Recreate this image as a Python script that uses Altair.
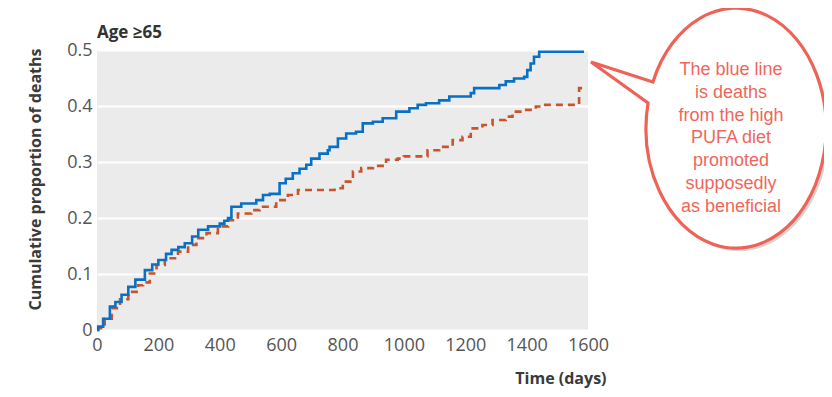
import altair as alt
import pandas as pd

# ---- data ----
BLUE_DAYS = [0, 4, 20, 42, 60, 80, 102, 125, 156, 180, 200, 225, 243, 265, 286, 310, 330, 362,
             400, 415, 427, 438, 470, 519, 541, 563, 595, 615, 638, 660, 682, 698, 725, 752, 758,
             785, 812, 844, 866, 899, 931, 975, 1018, 1045, 1072, 1115, 1148, 1218, 1229, 1311,
             1332, 1359, 1392, 1402, 1413, 1424, 1441, 1587]
BLUE_VALS = [0, 0.006, 0.02, 0.042, 0.05, 0.063, 0.077, 0.09, 0.107, 0.117, 0.125, 0.136, 0.143,
             0.148, 0.155, 0.167, 0.179, 0.185, 0.19, 0.195, 0.2, 0.22, 0.226, 0.232, 0.241, 0.243,
             0.262, 0.27, 0.28, 0.288, 0.295, 0.306, 0.315, 0.321, 0.327, 0.342, 0.351, 0.354,
             0.369, 0.372, 0.378, 0.39, 0.396, 0.402, 0.405, 0.41, 0.417, 0.423, 0.432, 0.4375,
             0.444, 0.449, 0.452, 0.464, 0.476, 0.488, 0.497, 0.497]

RED_DAYS = [0, 4, 25, 48, 75, 102, 134, 150, 172, 194, 221, 264, 297, 324, 357, 394, 427, 459,
            503, 530, 584, 622, 655, 774, 801, 834, 861, 899, 942, 980, 1000, 1077, 1115, 1159,
            1191, 1218, 1256, 1289, 1332, 1354, 1387, 1430, 1452, 1571, 1597]
RED_VALS = [0, 0.003, 0.02, 0.039, 0.055, 0.068, 0.08, 0.085, 0.101, 0.116, 0.128, 0.14, 0.152,
            0.164, 0.173, 0.185, 0.196, 0.208, 0.214, 0.22, 0.232, 0.241, 0.25, 0.253, 0.265,
            0.283, 0.289, 0.293, 0.304, 0.306, 0.31, 0.321, 0.327, 0.339, 0.345, 0.36, 0.366,
            0.375, 0.381, 0.39, 0.393, 0.399, 0.402, 0.432, 0.432]

X_TICKS = [0, 200, 400, 600, 800, 1000, 1200, 1400, 1600]
Y_TICKS = [0, 0.1, 0.2, 0.3, 0.4, 0.5]

TITLE = "Age \u226565"
X_TITLE = "Time (days)"
Y_TITLE = "Cumulative proportion of deaths"
CALLOUT_LINES = ["The blue line", "is deaths", "from the high", "PUFA diet",
                 "promoted", "supposedly", "as beneficial"]

blue_df = pd.DataFrame({"day": BLUE_DAYS, "p": BLUE_VALS})
red_df = pd.DataFrame({"day": RED_DAYS, "p": RED_VALS})

x_enc = alt.X("day:Q", scale=alt.Scale(domain=[0, 1600], nice=False),
              axis=alt.Axis(values=X_TICKS, format="d", labelOverlap=False, labelFlush=False,
                            labelBound=False, title=X_TITLE,
                            grid=False, domain=False,
                            ticks=False, labelFont="Open Sans", labelFontSize=18,
                            labelColor="#555555", labelPadding=6,
                            titleFont="Open Sans", titleFontSize=16, titleFontWeight="bold",
                            titleColor="#3a3a3a", titleAnchor="end", titleAlign="right",
                            titleX=509, titleY=53, titleBaseline="alphabetic"))
y_enc = alt.Y("p:Q", scale=alt.Scale(domain=[0, 0.5], nice=False),
              axis=alt.Axis(values=Y_TICKS, title=Y_TITLE, grid=True, gridColor="white",
                            gridWidth=1.8, gridOpacity=1, domain=False, ticks=False,
                            labelOverlap=False, labelFlush=False,
                            labelExpr="datum.value == 0 ? '0' : format(datum.value, '.1f')",
                            labelFont="Open Sans", labelFontSize=18, labelColor="#555555",
                            labelPadding=5,
                            titleFont="Open Sans", titleFontSize=16, titleFontWeight="bold",
                            titleColor="#3a3a3a", titleX=-62, titleY=129, titleAngle=-90,
                            titleAlign="center", titleBaseline="middle"))

red = alt.Chart(red_df).mark_line(interpolate="step-after", color="#c9532d", strokeWidth=2.6,
                                  strokeDash=[7, 5]).encode(x=x_enc, y=y_enc)
blue = alt.Chart(blue_df).mark_line(interpolate="step-after", color="#0a70c4",
                                    strokeWidth=2.6).encode(x=x_enc, y=y_enc)

anchor_df = pd.DataFrame({"k": [0]})

# panel title as text
title_mark = alt.Chart(anchor_df).mark_text(
    text=TITLE, font="Open Sans", fontSize=17, fontWeight="bold", color="#333333",
    align="left", baseline="alphabetic").encode(x=alt.value(0), y=alt.value(-12))

# speech bubble (ellipse with tail), unit = half-height of ellipse
BUBBLE_PATH = ("M -0.667 -0.458 L -1.183 -0.625 L -0.708 -0.283 "
               "A 0.75 1 0 1 0 -0.667 -0.458 Z")
shadow = alt.Chart(anchor_df).mark_point(
    shape=BUBBLE_PATH, size=57600, filled=True, fill="#888888", opacity=0.35,
    strokeWidth=0).encode(x=alt.value(639), y=alt.value(90))
bubble = alt.Chart(anchor_df).mark_point(
    shape=BUBBLE_PATH, size=57600, filled=True, fill="white", opacity=1,
    stroke="#ee6357", strokeWidth=3.2).encode(x=alt.value(636), y=alt.value(87))
callout = alt.Chart(anchor_df).mark_text(
    text=CALLOUT_LINES, font="Liberation Sans", fontSize=18, lineHeight=22.8,
    color="#f0665a", align="center", baseline="alphabetic").encode(
    x=alt.value(634), y=alt.value(25))

chart = alt.layer(red, blue, title_mark, shadow, bubble, callout).properties(
    width=491, height=280,
    autosize="none",
    background="white",
    padding={"left": 89, "top": 42, "right": 236, "bottom": 59},
).configure_view(fill="#ebebeb", stroke=None)

chart.save("out.html", embed_options={"renderer": "svg", "actions": False})
